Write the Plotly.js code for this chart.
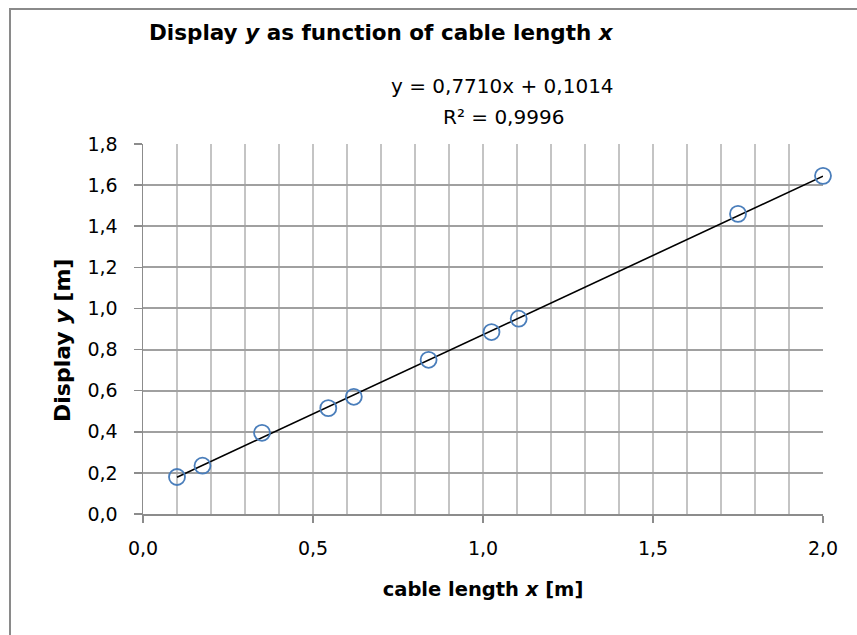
<!DOCTYPE html>
<html>
<head>
<meta charset="utf-8">
<script src="https://cdn.plot.ly/plotly-3.0.1.min.js"></script>
<style>
  html, body { margin: 0; padding: 0; background: #fff; overflow: hidden; }
  #wrap { position: relative; width: 857px; height: 635px; overflow: hidden; }
  #chart { position: absolute; left: 0; top: 0; width: 857px; height: 635px; }
  #frame { position: absolute; left: 9px; top: 8px; width: 860px; height: 640px;
           border-left: 2px solid #8a8a8a; border-top: 2px solid #8a8a8a; pointer-events: none; }
</style>
</head>
<body>
<div id="wrap">
  <div id="chart"></div>
  <div id="frame"></div>
</div>
<script>
// Measured data
const cableLength = [0.10, 0.175, 0.35, 0.545, 0.62, 0.84, 1.025, 1.105, 1.75, 2.00];
const displayY    = [0.18, 0.235, 0.395, 0.515, 0.57, 0.75, 0.885, 0.95, 1.46, 1.645];
// Linear trendline coefficients (as shown on chart)
const trendSlope = [0.7710];
const trendIntercept = [0.1014];
const trendR2 = [0.9996];
// Tick labels
const xTickVals = [0, 0.5, 1.0, 1.5, 2.0];
const xTickText = ["0,0", "0,5", "1,0", "1,5", "2,0"];
const yTickVals = [0, 0.2, 0.4, 0.6, 0.8, 1.0, 1.2, 1.4, 1.6, 1.8];
const yTickText = ["0,0", "0,2", "0,4", "0,6", "0,8", "1,0", "1,2", "1,4", "1,6", "1,8"];

const xMin = Math.min(...cableLength), xMax = Math.max(...cableLength);
const trendX = [xMin, xMax];
const trendY = trendX.map(v => trendSlope[0] * v + trendIntercept[0]);

const fmt = (v, d) => v.toFixed(d).replace('.', ',');

const FONT = '"DejaVu Sans", "Open Sans", sans-serif';

const traces = [
  {
    x: trendX, y: trendY, type: 'scatter', mode: 'lines',
    line: { color: '#000000', width: 1.6 },
    hoverinfo: 'skip', showlegend: false, cliponaxis: false
  },
  {
    x: cableLength, y: displayY, type: 'scatter', mode: 'markers',
    marker: { symbol: 'circle-open', size: 16, color: '#4a7ebb', line: { width: 1.8, color: '#4a7ebb' } },
    showlegend: false, cliponaxis: false
  }
];

const layout = {
  width: 857, height: 635,
  margin: { l: 143, r: 34, t: 144, b: 121 },
  paper_bgcolor: '#ffffff', plot_bgcolor: '#ffffff',
  font: { family: FONT, color: '#000000', size: 18 },
  showlegend: false,
  xaxis: {
    range: [0, 2.0], tickvals: xTickVals, ticktext: xTickText,
    showgrid: true, gridcolor: '#c4c4c4', gridwidth: 1.5,
    zeroline: false, showline: true, linecolor: '#8c8c8c', linewidth: 1.5,
    ticks: 'outside', ticklen: 7, tickcolor: '#8c8c8c', tickwidth: 1.5,
    ticklabelstandoff: 10,
    tickfont: { family: FONT, size: 19, color: '#000' },
    minor: { dtick: 0.1, showgrid: true, gridcolor: '#c4c4c4', gridwidth: 1.5, ticks: '' },
    title: { text: '<b>cable length <i>x</i> [m]</b>', font: { family: FONT, size: 19.5, color: '#000' }, standoff: 24 },
    fixedrange: true
  },
  yaxis: {
    range: [0, 1.8], tickvals: yTickVals, ticktext: yTickText,
    showgrid: true, gridcolor: '#a0a0a0', gridwidth: 2,
    zeroline: false, showline: true, linecolor: '#8c8c8c', linewidth: 1.5,
    ticks: 'outside', ticklen: 8, tickcolor: '#8c8c8c', tickwidth: 1.5,
    ticklabelstandoff: 12,
    tickfont: { family: FONT, size: 19, color: '#000' },
    fixedrange: true
  },
  annotations: [
    {
      xref: 'paper', yref: 'paper', x: (381 - 143) / 680, y: (514 - 33) / 370, xanchor: 'center', yanchor: 'middle',
      text: '<b>Display <i>y</i> as function of cable length <i>x</i></b>', showarrow: false,
      font: { family: FONT, size: 21.5, color: '#000' }
    },
    {
      xref: 'paper', yref: 'paper', x: (502 - 143) / 680, y: (514 - 86) / 370, xanchor: 'center', yanchor: 'middle',
      text: 'y = ' + fmt(trendSlope[0], 4) + 'x + ' + fmt(trendIntercept[0], 4), showarrow: false,
      font: { family: FONT, size: 20, color: '#000' }
    },
    {
      xref: 'paper', yref: 'paper', x: (503 - 143) / 680, y: (514 - 117) / 370, xanchor: 'center', yanchor: 'middle',
      text: 'R² = ' + fmt(trendR2[0], 4), showarrow: false,
      font: { family: FONT, size: 20, color: '#000' }
    },
    {
      xref: 'paper', yref: 'paper', x: (62 - 143) / 680, y: (514 - 341) / 370, xanchor: 'center', yanchor: 'middle',
      text: '<b>Display <i>y</i> [m]</b>', textangle: -90, showarrow: false,
      font: { family: FONT, size: 22, color: '#000' }
    }
  ]
};

Plotly.newPlot('chart', traces, layout, { displayModeBar: false, staticPlot: true });
</script>
</body>
</html>
